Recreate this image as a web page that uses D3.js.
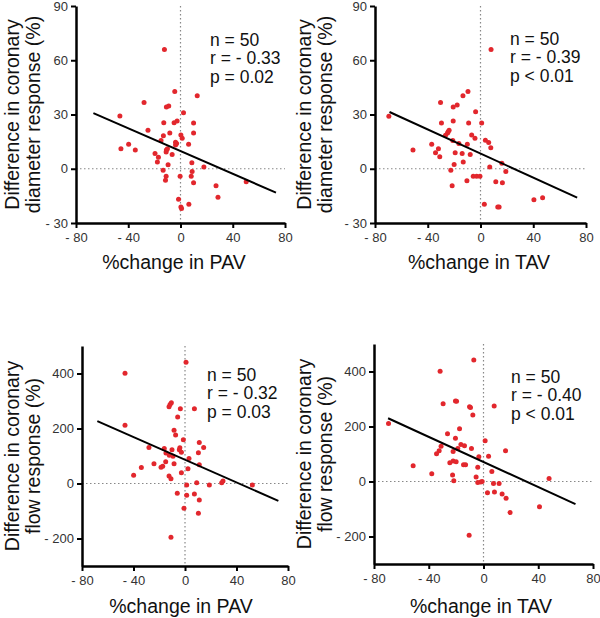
<!DOCTYPE html>
<html>
<head>
<meta charset="utf-8">
<script src="https://cdn.jsdelivr.net/npm/d3@7"></script>
<style>
  html, body { margin: 0; padding: 0; background: #fff; }
  svg { display: block; }
  text { font-family: "Liberation Sans", Arial, sans-serif; }
</style>
</head>
<body>
<svg id="chart" width="600" height="618"></svg>
<script>
// ---------- data ----------
const xTicks = [-80, -40, 0, 40, 80];
const xTickLabels = ["- 80", "- 40", "0", "40", "80"];
const yTicksDiam = [-30, 0, 30, 60, 90];
const yTickLabelsDiam = ["- 30", "0", "30", "60", "90"];
const yTicksFlow = [-200, 0, 200, 400];
const yTickLabelsFlow = ["- 200", "0", "200", "400"];

// Panel A: %change in PAV vs diameter response
const pavDiamX = [-12.3,-4.4,12.8,-27.9,-10.8,-9.0,2.3,-46.4,-12.8,-4.9,-2.6,10.0,-24.9,-8.2,10.0,-13.1,0.3,1.3,-14.9,-3.8,-3.8,6.2,-39.7,-45.6,-34.6,-10.8,-11.0,-6.4,-19.5,-16.9,-17.7,-9.5,8.7,17.9,-13.3,8.9,-11.0,-0.3,8.2,-11.5,10.0,27.2,50.3,28.7,-1.5,6.4,0.3,0.8,-10.0,-3.0];
const pavDiamY = [66.0,42.7,40.3,36.7,34.1,34.7,31.0,29.2,25.5,25.5,26.4,25.3,21.3,19.8,19.8,18.3,18.7,16.9,15.6,14.7,13.2,13.6,13.6,11.0,10.4,10.4,9.2,7.9,8.4,6.4,3.7,2.2,3.3,0.9,-0.8,-1.5,-4.1,-4.1,-4.1,-6.4,-7.7,-9.4,-7.2,-15.8,-16.9,-19.6,-21.1,-22.0,11.0,14.0];

// Panel B: %change in TAV vs diameter response
const tavDiamX = [8.0,-9.5,-13.3,-30.3,-20.7,-17.7,-3.7,-69.5,-29.6,-20.7,-9.0,0.9,-23.8,-25.0,-6.7,-4.2,-21.0,-16.4,-10.0,3.7,6.2,7.8,-37.0,-31.9,-51.2,-34.1,-30.9,-19.2,-13.9,-7.8,-13.1,-20.0,-22.5,7.0,16.2,19.2,-5.5,-2.9,-0.4,-10.3,11.6,16.6,-21.5,40.5,47.1,2.9,13.1,14.1,-24.5,-26.5];
const tavDiamY = [66.0,42.7,40.3,36.7,34.1,35.2,31.5,29.0,25.3,26.4,25.3,25.3,21.3,19.8,18.7,16.9,15.6,14.0,13.6,15.8,14.5,11.6,13.6,11.0,10.4,8.8,6.6,8.8,8.4,7.9,3.7,2.4,-0.8,0.9,3.1,-1.5,-4.2,-4.2,-4.2,-6.6,-7.2,-7.7,-9.4,-17.1,-16.0,-19.6,-21.1,-21.1,20.5,18.5];

// Panel C: %change in PAV vs flow response
const pavFlowX = [0.8,-46.6,-10.6,-11.6,-12.4,-3.6,7.3,-5.7,-46.6,-8.5,-7.3,-1.3,11.1,-28.0,-16.1,14.5,-10.1,-4.4,-2.8,10.4,-14.8,-12.2,-9.3,3.1,-24.1,-15.0,-8.5,-17.3,-18.6,11.1,-33.9,2.3,-2.8,-39.9,-12.4,-10.9,1.3,9.1,18.9,28.5,29.5,52.3,-6.0,1.3,7.3,11.1,-0.8,10.4,-10.9,-4.0];
const pavFlowY = [441,401,294,287,279,272,272,242,212,194,176,159,149,131,127,131,123,123,114,112,111,103,99,91,72,79,72,63,59,68,58,54,39,30,27,17,-5,3,-5,3,9,-5,-35,-43,-38,-60,-90,-108,-195,130];

// Panel D: %change in TAV vs flow response
const tavFlowX = [-7.1,-31.7,-29.5,-20.5,-19.7,-10.2,-9.5,7.8,-7.8,-69.4,-17.5,-26.3,1.2,-20.5,-31.0,-13.9,-8.8,-18.8,16.1,-32.4,-34.3,-22.2,-3.4,3.7,-24.6,-22.2,-20.0,-14.6,-13.1,-4.2,-51.4,6.1,-37.8,-22.6,-5.4,-21.7,-4.2,-1.0,7.3,11.4,47.9,2.9,8.0,13.6,16.5,40.9,19.4,-10.5,-16.5,-2.0];
const tavFlowY = [442,401,283,293,292,272,269,275,242,211,192,174,148,157,128,130,120,120,112,112,101,109,90,92,68,75,72,61,61,52,57,36,28,24,16,3,-4,0,-7,-7,11,-41,-38,-45,-61,-92,-113,-195,135,-2];

// regression line endpoints [x1, x2], [y1, y2]
const fitX = [[-66.7, 73.1], [-69.0, 73.3], [-68.1, 72.5], [-69.7, 67.2]];
const fitY = [[30.8, -13.2], [31.4, -16.0], [227, -63], [230, -82]];

const statsText = [
  ["n = 50", "r = - 0.33", "p = 0.02"],
  ["n = 50", "r = - 0.39", "p < 0.01"],
  ["n = 50", "r = - 0.32", "p = 0.03"],
  ["n = 50", "r = - 0.40", "p < 0.01"]
];
const xTitles = ["%change in PAV", "%change in TAV", "%change in PAV", "%change in TAV"];
const yTitles = [
  ["Difference in coronary", "diameter response (%)"],
  ["Difference in coronary", "diameter response (%)"],
  ["Difference in coronary", "flow response (%)"],
  ["Difference in coronary", "flow response (%)"]
];

// ---------- layout (positions only) ----------
const panels = [
  { xs: pavDiamX, ys: pavDiamY, xr: [76, 285], yd: [-30, 90], yr: [223, 6], yt: yTicksDiam, ytl: yTickLabelsDiam,
    stat: [210, 46], ytx: [19, 40], xtc: [174, 269] },
  { xs: tavDiamX, ys: tavDiamY, xr: [375, 586], yd: [-30, 90], yr: [223, 6], yt: yTicksDiam, ytl: yTickLabelsDiam,
    stat: [510, 45], ytx: [311, 332], xtc: [479, 269] },
  { xs: pavFlowX, ys: pavFlowY, xr: [82, 288], yd: [-300, 500], yr: [566, 346], yt: yTicksFlow, ytl: yTickLabelsFlow,
    stat: [207, 381], ytx: [19, 40], xtc: [181, 613] },
  { xs: tavFlowX, ys: tavFlowY, xr: [374, 593], yd: [-300, 500], yr: [564, 344], yt: yTicksFlow, ytl: yTickLabelsFlow,
    stat: [511, 383], ytx: [311, 332], xtc: [481, 613] }
];

const svg = d3.select("#chart");
const dotColor = "#e2272d";

panels.forEach((p, i) => {
  const x = d3.scaleLinear().domain([-80, 80]).range(p.xr);
  const y = d3.scaleLinear().domain(p.yd).range(p.yr);
  const g = svg.append("g");

  // dotted reference lines
  g.append("line")
    .attr("x1", x(-80)).attr("x2", x(80)).attr("y1", y(0)).attr("y2", y(0))
    .attr("stroke", "#888").attr("stroke-width", 1.2).attr("stroke-dasharray", "1.5,2.5");
  g.append("line")
    .attr("x1", x(0)).attr("x2", x(0)).attr("y1", y(p.yd[1])).attr("y2", y(p.yd[0]))
    .attr("stroke", "#888").attr("stroke-width", 1.2).attr("stroke-dasharray", "1.5,2.5");

  // axes
  const xAxis = d3.axisBottom(x).tickValues(xTicks)
    .tickFormat((d, k) => xTickLabels[k]).tickSize(5).tickPadding(5).tickSizeOuter(0);
  const gx = g.append("g").attr("transform", `translate(0,${y(p.yd[0])})`).call(xAxis);
  const yAxis = d3.axisLeft(y).tickValues(p.yt)
    .tickFormat((d, k) => p.ytl[k]).tickSize(5).tickPadding(3).tickSizeOuter(0);
  const gy = g.append("g").attr("transform", `translate(${x(-80)},0)`).call(yAxis);

  [gx, gy].forEach(ax => {
    ax.select(".domain").attr("stroke", "#000").attr("stroke-width", 2.5);
    ax.selectAll(".tick line").attr("stroke", "#000").attr("stroke-width", 2);
    ax.selectAll(".tick text").attr("fill", "#333").style("font-size", "13px")
      .style("font-family", "'Liberation Sans', Arial, sans-serif");
  });

  // points
  g.selectAll("circle.pt").data(p.xs.map((v, k) => [v, p.ys[k]])).enter()
    .append("circle").attr("class", "pt")
    .attr("cx", d => x(d[0])).attr("cy", d => y(d[1])).attr("r", 2.5)
    .attr("fill", dotColor);

  // regression line
  g.append("line")
    .attr("x1", x(fitX[i][0])).attr("y1", y(fitY[i][0]))
    .attr("x2", x(fitX[i][1])).attr("y2", y(fitY[i][1]))
    .attr("stroke", "#000").attr("stroke-width", 2);

  // stats text
  statsText[i].forEach((t, k) => {
    g.append("text").attr("x", p.stat[0]).attr("y", p.stat[1] + k * 18.3)
      .style("font-size", "17.5px").attr("fill", "#111").text(t);
  });

  // x title
  g.append("text").attr("x", p.xtc[0]).attr("y", p.xtc[1])
    .attr("text-anchor", "middle").style("font-size", "19.5px").attr("fill", "#111")
    .text(xTitles[i]);

  // y title (two lines)
  const cy = (p.yr[0] + p.yr[1]) / 2;
  yTitles[i].forEach((t, k) => {
    g.append("text")
      .attr("transform", `translate(${p.ytx[k]},${cy}) rotate(-90)`)
      .attr("text-anchor", "middle").style("font-size", "19.5px").attr("fill", "#111")
      .text(t);
  });
});
</script>
</body>
</html>
